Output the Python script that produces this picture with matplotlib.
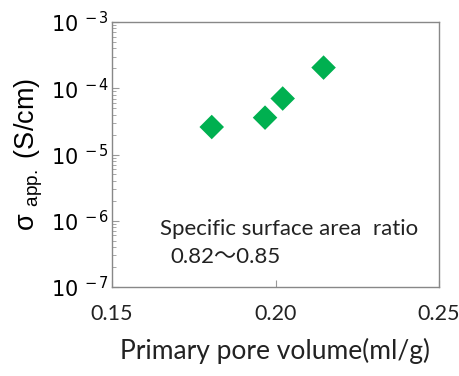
import matplotlib
matplotlib.use('Agg')
import matplotlib.pyplot as plt
from matplotlib.ticker import FuncFormatter, LogLocator, FixedLocator
import numpy as np

# data
pore_volume = [0.1805, 0.1968, 0.2022, 0.2147]   # ml/g
sigma_app = [2.6e-5, 3.6e-5, 7.0e-5, 2.05e-4]     # S/cm

x_ticks = [0.15, 0.20, 0.25]
x_ticklabels = ['0.15', '0.20', '0.25']
y_exponents = [-7, -6, -5, -4, -3]

note_line1 = 'Specific surface area  ratio'
note_line2 = '0.82～0.85'

plt.rcParams['mathtext.fontset'] = 'custom'
plt.rcParams['mathtext.rm'] = 'Liberation Sans'
plt.rcParams['mathtext.it'] = 'Liberation Sans'

fig = plt.figure(figsize=(4.6, 3.76), dpi=100)
ax = fig.add_axes([112/460, 1 - 287/376, (439-112)/460, (287-22)/376])

ax.scatter(pore_volume, sigma_app, marker='D', s=12.5**2, color='#00B050',
           edgecolors='none', zorder=3)

ax.set_yscale('log')
ax.set_xlim(0.15, 0.25)
ax.set_ylim(1e-7, 1e-3)

ax.xaxis.set_major_locator(FixedLocator(x_ticks))
ax.set_xticklabels(x_ticklabels, family='Lato', fontsize=15.5, color='#222222')

ax.yaxis.set_major_locator(FixedLocator([10.0**e for e in y_exponents]))
ax.yaxis.set_minor_locator(LogLocator(base=10, subs=np.arange(2, 10)))
ax.yaxis.set_major_formatter(FuncFormatter(
    lambda v, p: r'$\mathregular{10^{\ %d}}$' % round(np.log10(v))))
ax.tick_params(axis='y', which='major', direction='in', length=5, width=0.8,
               color='#999999', labelsize=15, pad=2, right=False)
ax.tick_params(axis='y', which='minor', direction='in', length=3, width=0.6,
               color='#999999', right=False)
ax.tick_params(axis='x', which='major', direction='in', length=5, width=0.8,
               color='#999999', pad=12, top=False)
ax.xaxis.set_minor_locator(FixedLocator([]))

for s in ax.spines.values():
    s.set_color('#888888')
    s.set_linewidth(1.0)

ax.set_xlabel('Primary pore volume(ml/g)', family='Lato', fontsize=19,
              color='#222222', labelpad=10)
ax.set_ylabel(r'$\mathregular{\sigma}$ $_{\mathregular{app.}}$ (S/cm)',
              family='Liberation Sans', fontsize=19.5, labelpad=4)

ax.text(0.147, 0.196, note_line1, transform=ax.transAxes,
        family=['Lato', 'Noto Sans CJK JP'], fontsize=16, color='#222222')
ax.text(0.177, 0.09, note_line2, transform=ax.transAxes,
        family=['Lato', 'Noto Sans CJK JP'], fontsize=16, color='#222222')

fig.savefig('out.png', dpi=100)
